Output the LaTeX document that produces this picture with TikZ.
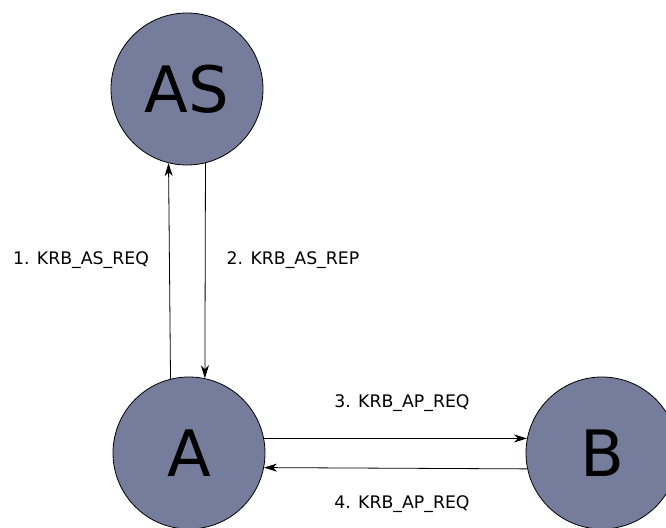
\documentclass[tikz,border=0pt]{standalone}
\usepackage{fontspec}
\setmainfont{DejaVu Sans}
\usetikzlibrary{arrows.meta}
\definecolor{nodefill}{RGB}{118,124,156}
\tikzset{
  party/.style={circle, draw=black, line width=0.8pt, fill=nodefill, minimum size=152pt, inner sep=0pt, font=\fontsize{64}{64}\selectfont},
  msg/.style={draw=black, line width=0.8pt, -{Stealth[length=13pt,width=8pt,inset=4pt]}},
  lbl/.style={font=\fontsize{17.3}{19}\selectfont, inner sep=0pt}
}
\begin{document}
\begin{tikzpicture}[x=1pt,y=-1pt]
\useasboundingbox (0,0) rectangle (666,527);
\node[party] (AS) at (187,89) {AS};
\node[party] (A) at (189,453) {A};
\node[party] (B) at (602,453) {B};
\draw[msg] (A.104) -- (AS.256);
\draw[msg] (AS.284) -- (A.78);
\draw[msg] (A.11) -- (B.169);
\draw[msg] (B.192) -- (A.349);
\node[lbl] (l1) at (81,260) {1. KRB\_AS\_REQ};
\node[lbl] (l2) at (293,260) {2. KRB\_AS\_REP};
\node[lbl] (l3) at (402,403) {3. KRB\_AP\_REQ};
\node[lbl] (l4) at (402,504) {4. KRB\_AP\_REQ};
\end{tikzpicture}
\end{document}
